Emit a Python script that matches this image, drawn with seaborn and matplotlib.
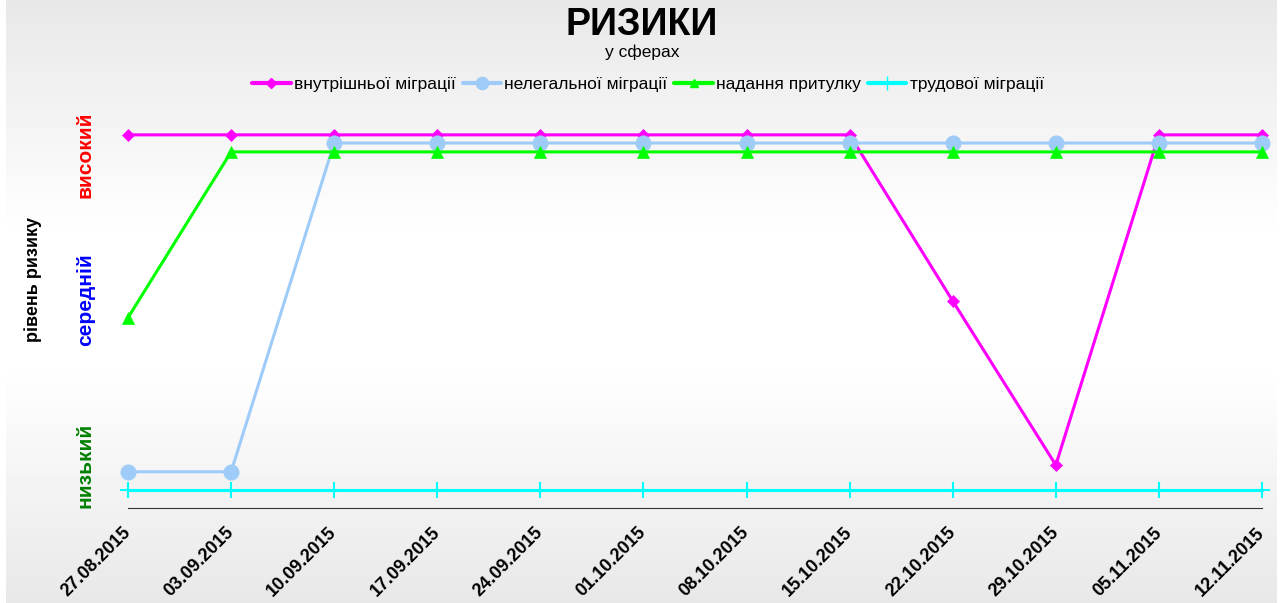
import numpy as np
import pandas as pd
import matplotlib.pyplot as plt
import seaborn as sns
from matplotlib.lines import Line2D

# data
dates = ["27.08.2015", "03.09.2015", "10.09.2015", "17.09.2015", "24.09.2015", "01.10.2015",
         "08.10.2015", "15.10.2015", "22.10.2015", "29.10.2015", "05.11.2015", "12.11.2015"]
internal = [10, 10, 10, 10, 10, 10, 10, 10, 5.32, 0.70, 10, 10]
illegal = [0.51, 0.51, 9.77, 9.77, 9.77, 9.77, 9.77, 9.77, 9.77, 9.77, 9.77, 9.77]
asylum = [4.85, 9.52, 9.52, 9.52, 9.52, 9.52, 9.52, 9.52, 9.52, 9.52, 9.52, 9.52]
labour = [0, 0, 0, 0, 0, 0, 0, 0, 0, 0, 0, 0]
series_names = ["внутрішньої міграції", "нелегальної міграції", "надання притулку", "трудової міграції"]
level_labels = ["низький", "середній", "високий"]
level_pos = [0.70, 5.35, 9.44]
level_colors = ["#008000", "#0000ff", "#ff0000"]

sns.set_style("white")
plt.rcParams['font.family'] = ['Liberation Sans', 'DejaVu Sans']
plt.rcParams['text.color'] = 'black'
plt.rcParams['xtick.color'] = '#333333'
plt.rcParams['xtick.labelcolor'] = 'black'

df = pd.DataFrame({"x": np.arange(len(dates))})
styles = [
    (internal, "#ff00ff", "D", 6),
    (illegal, "#9fcbf8", "o", 11),
    (asylum, "#00ff00", "^", 8),
    (labour, "#00ffff", "+", 12),
]

fig = plt.figure(figsize=(12.84, 6.03), dpi=100)

# gradient background
bg = fig.add_axes([6 / 1284, 0, 1271 / 1284, 1], zorder=-10)
grad = np.concatenate([np.linspace(0.91, 1.0, 40), np.ones(20), np.linspace(1.0, 0.91, 40)])
bg.imshow(grad.reshape(-1, 1), aspect="auto", cmap="gray", vmin=0, vmax=1,
          extent=[0, 1, 0, 1], origin="upper")
bg.axis("off")

ax = fig.add_axes([128 / 1284, 95 / 603, 1134 / 1284, 398 / 603])
ax.patch.set_alpha(0)

handles = []
for (vals, col, mk, ms), name in zip(styles, series_names):
    df["y"] = vals
    sns.lineplot(data=df, x="x", y="y", ax=ax, color=col, lw=2.2, marker=mk,
                 markersize=ms, markeredgecolor=col, markeredgewidth=1.5 if mk == "+" else 0.5,
                 clip_on=False)
    handles.append(Line2D([], [], color=col, lw=3, marker=mk, markersize=ms * 0.8,
                          markeredgecolor=col, label=name))

ax.set_xlim(0, 11)
ax.set_ylim(-0.51, 10.70)
ax.set_xticks(range(len(dates)))
ax.set_xticklabels(dates, rotation=45, ha="right", va="center", rotation_mode="anchor",
                   fontsize=13, fontweight="bold")
ax.tick_params(axis="x", length=6, pad=10)
ax.set_yticks(level_pos)
ax.set_yticklabels(level_labels, rotation=90, va="center", fontsize=15, fontweight="bold")
for t, c in zip(ax.get_yticklabels(), level_colors):
    t.set_color(c)
ax.tick_params(axis="y", length=0, pad=24)
ax.set_xlabel("")
ax.set_ylabel("")
for s in ["top", "right", "left"]:
    ax.spines[s].set_visible(False)
ax.spines["bottom"].set_color("#333333")

fig.text(33 / 1284, 1 - 280 / 603, "рівень ризику", rotation=90, ha="center", va="center",
         fontsize=13, fontweight="bold")
fig.text(0.5, 1 - 25 / 603, "РИЗИКИ", ha="center", va="center", fontsize=27, fontweight="bold")
fig.text(0.5, 1 - 52 / 603, "у сферах", ha="center", va="center", fontsize=12.5)
fig.legend(handles=handles, loc="center", bbox_to_anchor=(648 / 1284, 1 - 84 / 603), ncol=4,
           frameon=False, fontsize=12.5, handlelength=2.2, handletextpad=0.2, columnspacing=0.4)

fig.savefig("out.png", dpi=100)
